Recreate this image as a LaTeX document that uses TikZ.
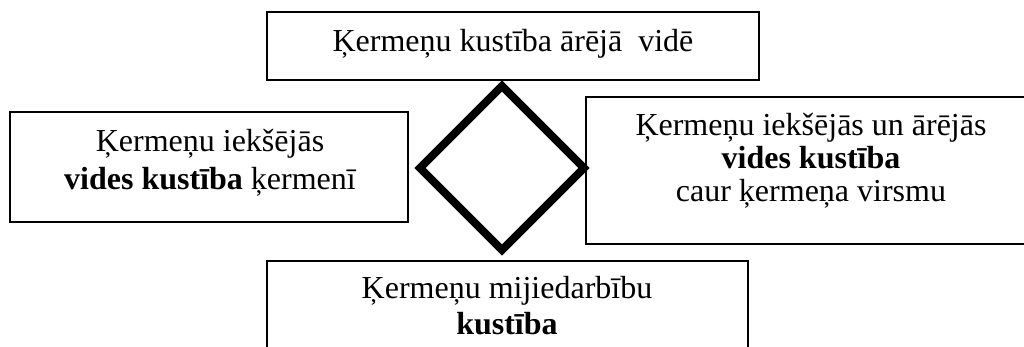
\documentclass[tikz,border=0pt]{standalone}
\usepackage{fontspec}
\setmainfont{Liberation Serif}
\begin{document}
\begin{tikzpicture}[x=1pt,y=-1pt,
  box/.style={draw,line width=1.5pt,rectangle,inner sep=0pt},
  txt/.style={align=center,inner sep=0pt,anchor=base},
  diamondline/.style={line width=8pt,line join=miter}]
\clip (0,0) rectangle (1024,347);
\fill[white] (0,0) rectangle (1024,347);
% boxes
\node[box,minimum width=492pt,minimum height=68pt] (top) at (513,46) {};
\node[box,minimum width=398pt,minimum height=110pt] (left) at (209,167) {};
\node[box,minimum width=450pt,minimum height=147pt] (right) at (811,170.5) {};
\node[box,minimum width=481pt,minimum height=98pt] (bottom) at (507.5,310) {};
% texts (base anchor = baseline of the last line)
\node[txt,font=\fontsize{32}{34}\selectfont] (toptext) at (513,52) {Ķermeņu kustība ārējā\ \ vidē};
\node[txt,font=\fontsize{32}{38}\selectfont] (lefttext) at (210,190) {Ķermeņu iekšējās\\\textbf{vides kustība} ķermenī};
\node[txt,font=\fontsize{32}{33}\selectfont] (righttext) at (811,202) {Ķermeņu iekšējās un ārējās\\\textbf{vides kustība}\\caur ķermeņa virsmu};
\node[txt,font=\fontsize{32}{36}\selectfont] (bottomtext) at (507,334) {Ķermeņu mijiedarbību\\\textbf{kustība}};
% diamond
\coordinate (dl) at (420,168);
\coordinate (dt) at (502,86);
\coordinate (dr) at (584,168);
\coordinate (db) at (502,250);
\draw[diamondline] (dl) -- (dt) -- (dr) -- (db) -- cycle;
\end{tikzpicture}
\end{document}
